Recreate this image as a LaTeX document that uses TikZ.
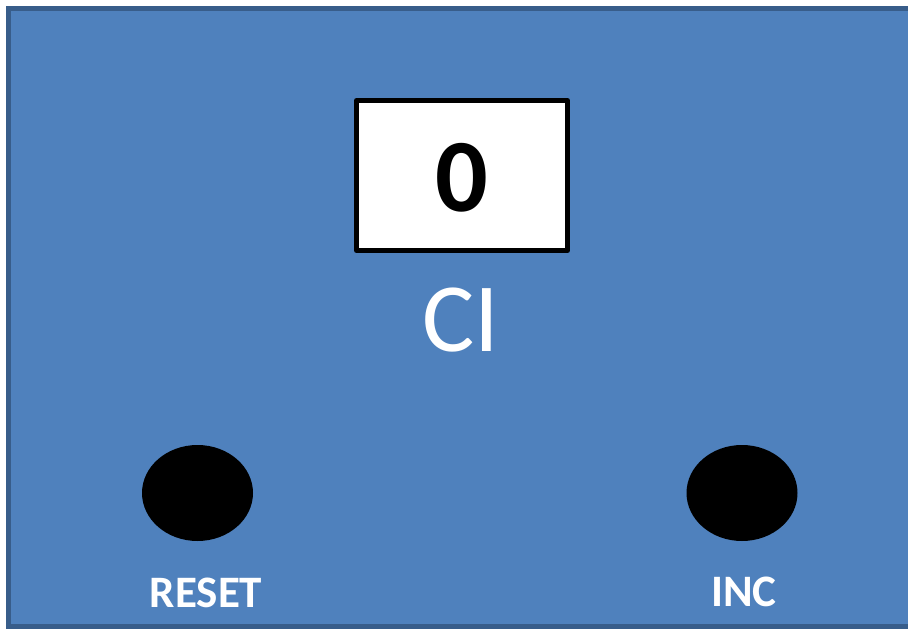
\documentclass[tikz,border=0pt]{standalone}
\usepackage{fontspec}
\setmainfont{Carlito}
\definecolor{panelblue}{HTML}{4F81BD}
\definecolor{paneledge}{HTML}{385D8A}

\begin{document}
\begin{tikzpicture}[x=1pt, y=-1pt]
    \tikzset{
        panel/.style={fill=panelblue, draw=paneledge, line width=5pt},
        display/.style={fill=white, draw=black, line width=5pt, line join=round},
        button/.style={fill=black},
        caption/.style={text=white, inner sep=0pt},
    }
    \useasboundingbox (0,0) rectangle (908,629);
    \clip (0,0) rectangle (908,629);

    % Panel
    \draw[panel] (8.5,8.5) rectangle (920,626.5);

    % Display
    \draw[display] (356.5,100.5) rectangle (567.5,250.5);
    \node[inner sep=0pt, font=\fontsize{104}{104}\selectfont\bfseries] (count) at (462,178) {0};
    \node[caption, font=\fontsize{98}{98}\selectfont] (ci) at (461,320.5) {CI};

    % Buttons
    \fill[button] (197.5,493) ellipse (55.5 and 48);
    \fill[button] (742,493) ellipse (55.5 and 48);
    \node[caption, font=\fontsize{45}{45}\selectfont\bfseries] (reset) at (206,592.5) {RESET};
    \node[caption, font=\fontsize{45}{45}\selectfont\bfseries] (inc) at (744,592) {INC};
\end{tikzpicture}
\end{document}
